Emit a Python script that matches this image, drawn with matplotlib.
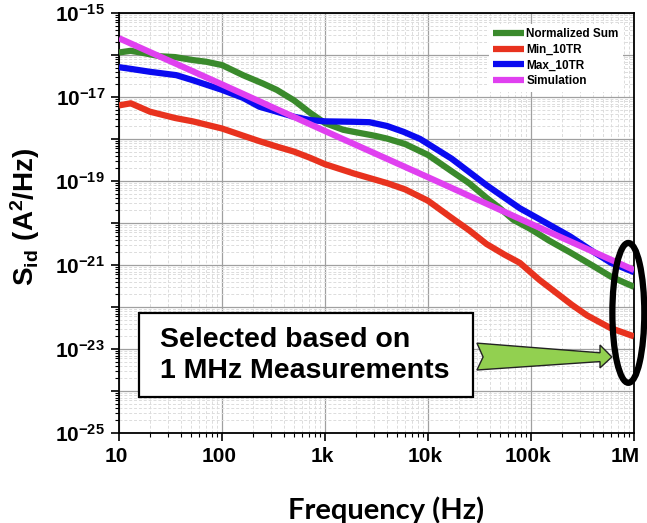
import numpy as np
import matplotlib
matplotlib.use("Agg")
import matplotlib.pyplot as plt
from matplotlib.ticker import FixedLocator, LogLocator, FuncFormatter, NullFormatter
from matplotlib.patches import Rectangle, Polygon, Ellipse
from matplotlib.transforms import ScaledTranslation

plt.rcParams["font.family"] = ["Liberation Sans", "DejaVu Sans"]
plt.rcParams["mathtext.fontset"] = "custom"
plt.rcParams["mathtext.rm"] = "Liberation Sans"
plt.rcParams["mathtext.bf"] = "Liberation Sans:bold"

# ── data (log10 of S_id) ──
f_sum = [10, 13, 17, 25, 35, 52, 70, 100, 160, 250, 340, 500, 720, 1e3, 1.5e3, 2e3,
         3e3, 4e3, 6e3, 1e4, 1.7e4, 2.5e4, 3.7e4, 5e4, 6.7e4, 1e5, 1.5e5, 2.4e5, 4e5, 6e5, 1e6]
s_sum = [-15.94, -15.90, -15.95, -16.03, -16.05, -16.12, -16.16, -16.24, -16.48, -16.68,
         -16.83, -17.08, -17.38, -17.62, -17.78, -17.84, -17.92, -17.99, -18.12, -18.38,
         -18.77, -19.05, -19.40, -19.65, -19.92, -20.15, -20.42, -20.70, -21.02, -21.28, -21.52]

f_min = [10, 13, 20, 35, 52, 100, 160, 230, 340, 500, 720, 1e3, 1.9e3, 4e3, 6e3, 1e4,
         1.7e4, 2.5e4, 3.7e4, 5.5e4, 7.8e4, 1.2e5, 1.63e5, 2.5e5, 3.5e5, 5.9e5, 1e6]
s_min = [-17.20, -17.15, -17.35, -17.50, -17.58, -17.75, -17.92, -18.05, -18.18, -18.30,
         -18.45, -18.60, -18.82, -19.05, -19.20, -19.47, -19.88, -20.17, -20.50, -20.75,
         -20.95, -21.35, -21.60, -21.95, -22.20, -22.50, -22.70]

f_max = [10, 13, 20, 36, 52, 100, 160, 230, 340, 500, 720, 1e3, 1.9e3, 2.7e3, 4e3, 5.8e3,
         8.4e3, 1.7e4, 3.7e4, 7.8e4, 1.23e5, 2.4e5, 4e5, 6e5, 1e6]
s_max = [-16.29, -16.33, -16.40, -16.48, -16.60, -16.83, -17.02, -17.23, -17.35, -17.47,
         -17.55, -17.58, -17.59, -17.60, -17.69, -17.83, -18.00, -18.47, -19.10, -19.65,
         -19.92, -20.32, -20.68, -20.95, -21.17]

f_sim = [10, 100, 1e3, 1e4, 1e5, 1e6]
s_sim = [-15.60, -16.70, -17.81, -18.91, -20.02, -21.12]

series = [
    ("Normalized Sum", f_sum, s_sum, "#3a8a2c"),
    ("Min_10TR", f_min, s_min, "#e8321e"),
    ("Max_10TR", f_max, s_max, "#0a0af0"),
    ("Simulation", f_sim, s_sim, "#e040f0"),
]

x_ticks = [10, 100, 1e3, 1e4, 1e5, 1e6]
x_labels = ["10", "100", "1k", "10k", "100k", "1M"]

fig = plt.figure(figsize=(6.47, 5.23), dpi=100)
ax = fig.add_axes([119 / 647, 1 - 433 / 523, 515 / 647, 420 / 523])

for name, f, s, c in series:
    ax.plot(f, 10.0 ** np.array(s), color=c, lw=4.5, label=name, zorder=3,
            solid_capstyle="butt")

ax.set_xscale("log")
ax.set_yscale("log")
ax.set_xlim(10, 1e6)
ax.set_ylim(1e-25, 1e-15)

# ── ticks ──
ax.xaxis.set_major_locator(FixedLocator(x_ticks))
ax.set_xticklabels(x_labels)
ax.xaxis.set_minor_locator(LogLocator(base=10, subs=np.arange(2, 10), numticks=50))
ax.xaxis.set_minor_formatter(NullFormatter())

ax.yaxis.set_major_locator(FixedLocator(10.0 ** np.arange(-25, -14)))
ax.yaxis.set_major_formatter(FuncFormatter(
    lambda v, p: r"$\mathbf{10^{%d}}$" % round(np.log10(v)) if round(np.log10(v)) % 2 else ""))
ax.yaxis.set_minor_locator(LogLocator(base=10, subs=np.arange(2, 10), numticks=50))
ax.yaxis.set_minor_formatter(NullFormatter())

ax.tick_params(which="major", length=6, width=1.2, labelsize=15, pad=4)
ax.tick_params(which="minor", length=3, width=0.8)
xlabs = ax.get_xticklabels()
for lab in xlabs:
    lab.set_fontweight("bold")
    lab.set_transform(lab.get_transform() + ScaledTranslation(-3 / 100, 0, fig.dpi_scale_trans))
xlabs[-1].set_transform(xlabs[-1].get_transform() + ScaledTranslation(-6 / 100, 0, fig.dpi_scale_trans))

# ── grid ──
ax.grid(which="major", color="#a0a0a0", lw=0.9, zorder=0)
ax.grid(which="minor", color="#dcdcdc", lw=0.7, ls=(0, (3, 2)), zorder=0)
for sp in ax.spines.values():
    sp.set_linewidth(1.3)

# ── labels ──
ax.set_xlabel("Frequency (Hz)", family="Lato", fontweight="bold", fontsize=21)
ax.xaxis.set_label_coords(0.518, -0.152)
ax.set_ylabel(r"$\mathbf{S_{id}\ (A^{2}/Hz)}$", fontsize=20)
ax.yaxis.set_label_coords(-0.150, 0.514)

leg = ax.legend(loc="upper right", fontsize=8.5, handlelength=2.6, handletextpad=0.2,
                labelspacing=0.3, borderaxespad=0.9, frameon=True, fancybox=False)
leg.get_frame().set_edgecolor("none")
leg.get_frame().set_alpha(1)
for t in leg.get_texts():
    t.set_fontweight("bold")
for h in leg.get_lines():
    h.set_linewidth(4.5)

# ── annotation ──
ax.add_patch(Rectangle((0.039, 0.086), 0.648, 0.200, transform=ax.transAxes,
                       facecolor="white", edgecolor="black", lw=1.6, zorder=5))
ax.text(0.080, 0.1845, "Selected based on\n1 MHz Measurements", transform=ax.transAxes,
        fontsize=20.5, fontweight="bold", va="center", ha="left", linespacing=1.22, zorder=6)

arrow_pts = [(0.695, 0.214), (0.934, 0.191), (0.934, 0.2095), (0.957, 0.181),
             (0.934, 0.155), (0.934, 0.170), (0.695, 0.150), (0.707, 0.181)]
ax.add_patch(Polygon(arrow_pts, closed=True, transform=ax.transAxes,
                     facecolor="#92d050", edgecolor="#222222", lw=1.0, zorder=5))

ax.add_patch(Ellipse((0.989, 0.286), 0.062, 0.333, transform=ax.transAxes,
                     facecolor="none", edgecolor="black", lw=4.5, zorder=6, clip_on=False))

fig.savefig("out.png", dpi=100)
